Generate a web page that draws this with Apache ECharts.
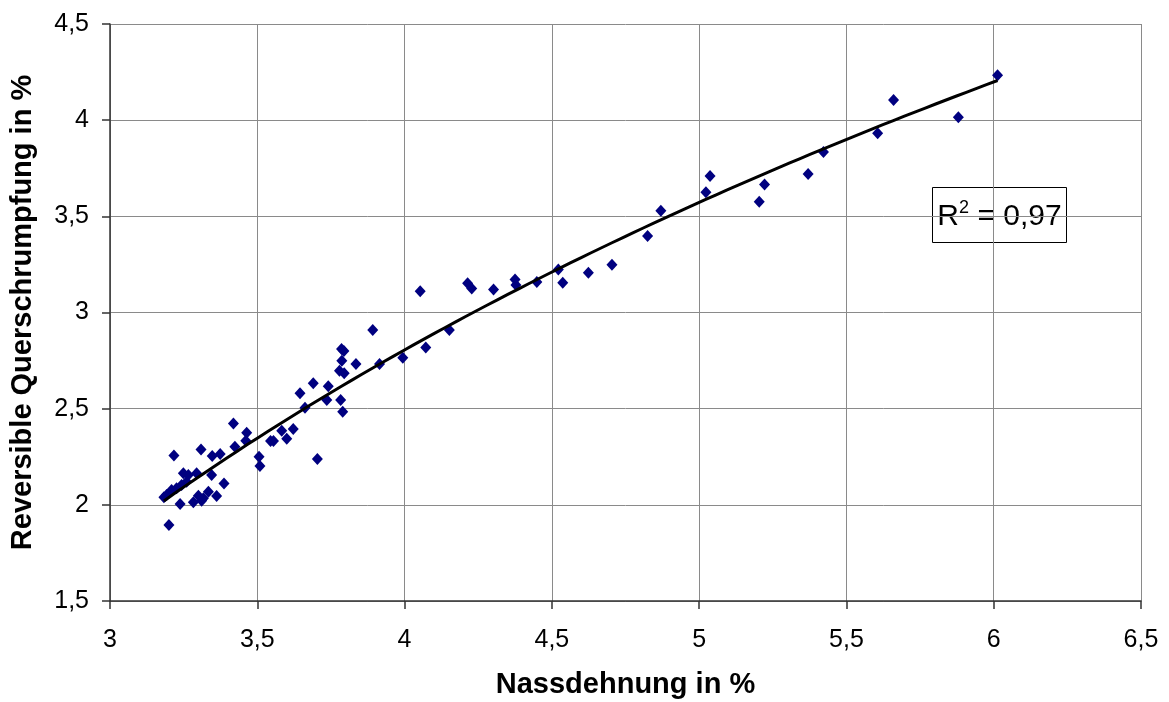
<!DOCTYPE html>
<html>
<head>
<meta charset="utf-8">
<script src="https://cdn.jsdelivr.net/npm/echarts@6/dist/echarts.min.js"></script>
<style>
  html, body { margin: 0; padding: 0; background: #ffffff; }
  #chart { width: 1169px; height: 702px; }
</style>
</head>
<body>
<div id="chart"></div>
<script>
// Wet expansion (x, %) vs. reversible transverse shrinkage (y, %)
const nassdehnung = [
  3.183, 3.192, 3.200, 3.209, 3.226, 3.238, 3.243, 3.260, 3.249, 3.266,
  3.294, 3.283, 3.300, 3.311, 3.317, 3.334, 3.345, 3.362, 3.387, 3.217,
  3.309, 3.347, 3.374, 3.419, 3.424, 3.461, 3.464, 3.506, 3.509, 3.545,
  3.555, 3.583, 3.600, 3.622, 3.645, 3.662, 3.690, 3.704, 3.736, 3.741,
  3.779, 3.783, 3.787, 3.786, 3.794, 3.795, 3.790, 3.835, 3.892, 3.915,
  3.994, 4.053, 4.072, 4.152, 4.214, 4.228, 4.302, 4.375, 4.378, 4.449,
  4.522, 4.537, 4.624, 4.704, 4.825, 4.870, 5.023, 5.037, 5.204, 5.222,
  5.370, 5.422, 5.606, 5.660, 5.880, 6.013
];
const querschrumpfung = [
  2.039, 2.051, 1.895, 2.077, 2.086, 2.004, 2.103, 2.120, 2.164, 2.155,
  2.164, 2.013, 2.047, 2.021, 2.034, 2.068, 2.155, 2.046, 2.111, 2.257,
  2.288, 2.254, 2.264, 2.423, 2.302, 2.333, 2.375, 2.250, 2.202, 2.332,
  2.332, 2.385, 2.344, 2.394, 2.580, 2.505, 2.632, 2.238, 2.545, 2.617,
  2.697, 2.545, 2.749, 2.810, 2.800, 2.684, 2.484, 2.732, 2.909, 2.732,
  2.765, 3.110, 2.818, 2.909, 3.152, 3.125, 3.120, 3.172, 3.143, 3.158,
  3.224, 3.155, 3.207, 3.248, 3.398, 3.529, 3.625, 3.710, 3.576, 3.666,
  3.720, 3.835, 3.932, 4.105, 4.015, 4.233
];
const xTicks = { min: 3, max: 6.5, step: 0.5 };
const yTicks = { min: 1.5, max: 4.5, step: 0.5 };
const r2Label = '0,97';

const points = nassdehnung.map((x, i) => [x, querschrumpfung[i]]);

// Logarithmic least-squares trend line: y = a*ln(x) + b
function logFit(xs, ys) {
  const n = xs.length;
  let sl = 0, sy = 0, sll = 0, sly = 0;
  for (let i = 0; i < n; i++) {
    const l = Math.log(xs[i]);
    sl += l; sy += ys[i]; sll += l * l; sly += l * ys[i];
  }
  const a = (n * sly - sl * sy) / (n * sll - sl * sl);
  const b = (sy - a * sl) / n;
  return { a, b };
}
const fit = logFit(nassdehnung, querschrumpfung);
const xLo = Math.min(...nassdehnung), xHi = Math.max(...nassdehnung);
const trend = [];
for (let k = 0; k <= 80; k++) {
  const x = xLo + (xHi - xLo) * k / 80;
  trend.push([x, fit.a * Math.log(x) + fit.b]);
}

const comma = v => String(v).replace('.', ',');
const FONT = "'Liberation Sans', Arial, sans-serif";

const chart = echarts.init(document.getElementById('chart'), null, { renderer: 'canvas' });
chart.setOption({
  animation: false,
  backgroundColor: '#ffffff',
  grid: { left: 110, right: 28, top: 24, bottom: 101, containLabel: false, outerBoundsMode: 'none' },
  xAxis: {
    type: 'value',
    min: xTicks.min, max: xTicks.max, interval: xTicks.step,
    name: 'Nassdehnung in %',
    nameLocation: 'middle',
    nameGap: 69,
    nameTextStyle: { fontFamily: FONT, fontSize: 29, fontWeight: 'bold', color: '#000' },
    axisLine: { show: true, onZero: false, lineStyle: { color: '#333', width: 1.5 } },
    axisTick: { show: true, inside: false, length: 8, lineStyle: { color: '#333', width: 1.5 } },
    axisLabel: { margin: 27, fontFamily: FONT, fontSize: 25, color: '#000', formatter: comma },
    splitLine: { show: true, lineStyle: { color: '#8a8a8a', width: 1 } }
  },
  yAxis: {
    type: 'value',
    min: yTicks.min, max: yTicks.max, interval: yTicks.step,
    name: 'Reversible Querschrumpfung in %',
    nameLocation: 'middle',
    nameGap: 73,
    nameRotate: 90,
    nameTextStyle: { fontFamily: FONT, fontSize: 29, fontWeight: 'bold', color: '#000' },
    axisLine: { show: true, onZero: false, lineStyle: { color: '#333', width: 1.5 } },
    axisTick: { show: true, inside: false, length: 8, lineStyle: { color: '#333', width: 1.5 } },
    axisLabel: { margin: 21, fontFamily: FONT, fontSize: 25, color: '#000', formatter: comma },
    splitLine: { show: true, lineStyle: { color: '#8a8a8a', width: 1 } }
  },
  series: [
    {
      type: 'scatter',
      data: points,
      symbol: 'diamond',
      symbolSize: [11, 12],
      itemStyle: { color: '#000080', opacity: 1 },
      z: 3
    },
    {
      type: 'line',
      data: trend,
      showSymbol: false,
      smooth: false,
      lineStyle: { color: '#000000', width: 3 },
      z: 4
    }
  ],
  graphic: [
    {
      type: 'group',
      left: 932, top: 187,
      children: [
        { type: 'rect', shape: { x: 0, y: 0, width: 134, height: 55 },
          style: { fill: '#ffffff', stroke: '#000', lineWidth: 1 } },
        { type: 'text', x: 67, y: 29,
          style: {
            text: '{r|R}{s|2}{r| = ' + r2Label + '}',
            align: 'center', verticalAlign: 'middle',
            rich: {
              r: { fontFamily: FONT, fontSize: 30, fill: '#000' },
              s: { fontFamily: FONT, fontSize: 18, fill: '#000', verticalAlign: 'top', padding: [0, 0, 16, 0] }
            }
          } }
      ]
    }
  ]
});
</script>
</body>
</html>
